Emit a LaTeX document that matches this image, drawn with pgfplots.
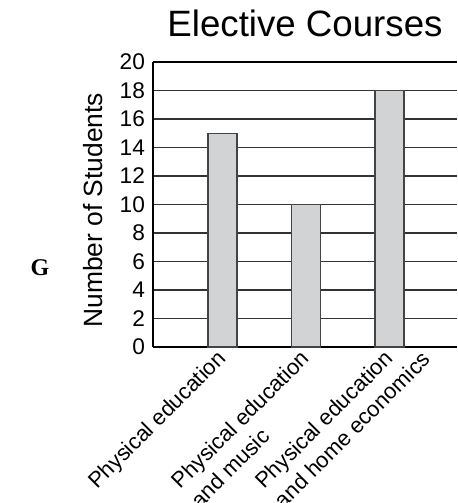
\documentclass[border=0pt]{standalone}
\usepackage{fontspec}
\setmainfont{Liberation Sans}
\newfontfamily\serifb{Liberation Serif}
\usepackage{pgfplots}
\pgfplotsset{compat=1.18}
\definecolor{barfill}{HTML}{D1D3D4}
\definecolor{baredge}{HTML}{444444}
\definecolor{gridc}{HTML}{333333}
\begin{document}
\begin{tikzpicture}
\path[use as bounding box] (-114.75pt,-117pt) rectangle (228pt,260.25pt);
\begin{axis}[
  at={(0,0)}, anchor=south west,
  scale only axis,
  width=228pt, height=213.75pt,
  xmin=0.1677, xmax=3.808,
  ymin=0, ymax=20,
  ytick={0,2,...,20},
  xtick={1,2,3},
  xticklabels={Physical education,{Physical education\\\rlap{and music}},{Physical education\\\rlap{and home economics}}},
  axis x line*=box,
  axis y line*=left,
  axis line style={line width=1.8pt, black},
  ymajorgrids,
  major grid style={line width=0.8pt, gridc},
  major tick length=0pt,
  yticklabel style={font=\fontsize{17pt}{20pt}\selectfont, xshift=-2.5pt},
  /pgf/number format/assume math mode=true,
  xticklabel style={font=\fontsize{16.5pt}{20.5pt}\selectfont, xshift=-5pt, yshift=-1pt, rotate=45, anchor=north east, align=left, inner sep=0pt},
  title={Elective Courses},
  title style={at={(0.5,1)}, anchor=base, yshift=12.75pt, font=\fontsize{27.5pt}{32pt}\selectfont},
  ylabel={Number of Students},
  ylabel style={at={(axis description cs:-0.197,0.48)}, anchor=center, font=\fontsize{19.8pt}{23pt}\selectfont},
  clip=false,
]
\addplot[ybar, bar width=0.347, fill=barfill, draw=baredge, line width=0.9pt]
  coordinates {(1,15) (2,10) (3,18)};
\end{axis}
\node[font=\serifb\bfseries\fontsize{18pt}{21pt}\selectfont] at (-84.75pt,59.25pt) {G};
\end{tikzpicture}
\end{document}
